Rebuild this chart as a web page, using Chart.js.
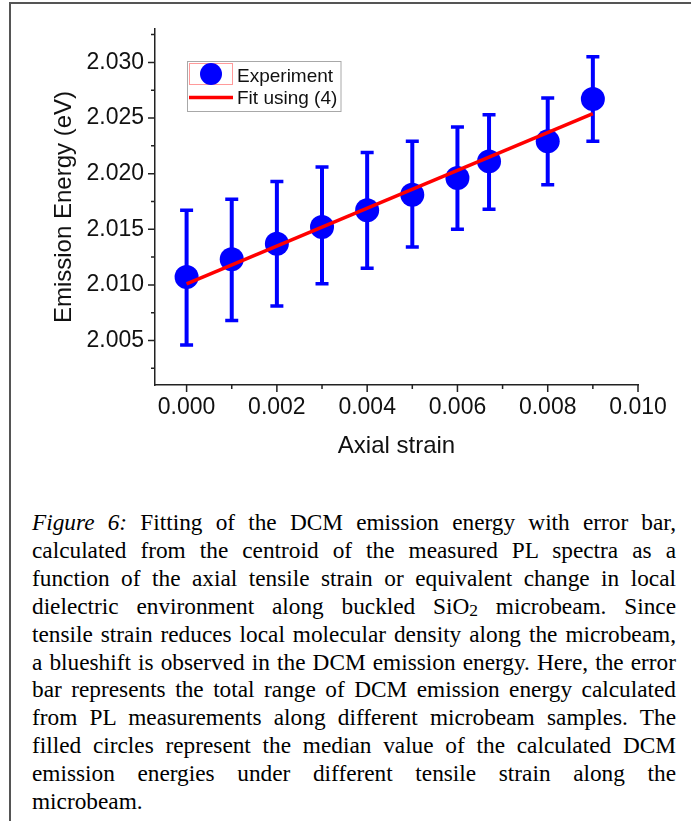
<!DOCTYPE html>
<html>
<head>
<meta charset="utf-8">
<script src="https://cdn.jsdelivr.net/npm/chart.js@4.4.1/dist/chart.umd.min.js"></script>
<style>
  html, body { margin: 0; padding: 0; background: #fff; }
  body { width: 691px; height: 821px; position: relative; overflow: hidden; }
  #frame {
    position: absolute; left: 9px; top: 2px; width: 720px; height: 860px;
    border: 2px solid #555; box-sizing: border-box;
  }
  #chartBox { position: absolute; left: 0; top: 0; width: 691px; height: 480px; }
  #caption {
    position: absolute; left: 32px; top: 509px; width: 644px;
    font-family: "Liberation Serif", "Times New Roman", serif;
    font-size: 23.3px; line-height: 27.9px; color: #000;
  }
  #caption .ln { text-align: justify; text-align-last: justify; white-space: nowrap; }
  #caption .ln.last { text-align-last: left; }
  #caption sub { font-size: 0.75em; vertical-align: -0.12em; line-height: 0; }
</style>
</head>
<body>
<div id="frame"></div>
<div id="chartBox"><canvas id="chartCanvas"></canvas></div>
<div id="caption">
  <div class="ln"><i>Figure 6:</i> Fitting of the DCM emission energy with error bar,</div>
  <div class="ln">calculated from the centroid of the measured PL spectra as a</div>
  <div class="ln">function of the axial tensile strain or equivalent change in local</div>
  <div class="ln">dielectric environment along buckled SiO<sub>2</sub> microbeam. Since</div>
  <div class="ln">tensile strain reduces local molecular density along the microbeam,</div>
  <div class="ln">a blueshift is observed in the DCM emission energy. Here, the error</div>
  <div class="ln">bar represents the total range of DCM emission energy calculated</div>
  <div class="ln">from PL measurements along different microbeam samples. The</div>
  <div class="ln">filled circles represent the median value of the calculated DCM</div>
  <div class="ln">emission energies under different tensile strain along the</div>
  <div class="ln last">microbeam.</div>
</div>
<script>
// measured points: strain vs median emission energy, with full range as error bar
const strain = [0, 0.001, 0.002, 0.003, 0.004, 0.005, 0.006, 0.0067, 0.008, 0.009];
const energy = [2.0107, 2.0123, 2.0137, 2.0152, 2.0167, 2.0181, 2.0196, 2.0211, 2.0229, 2.0267];
const energyHigh = [2.0167, 2.0177, 2.0193, 2.0206, 2.0219, 2.0229, 2.0242, 2.0253, 2.0268, 2.0305];
const energyLow = [2.0046, 2.0068, 2.0081, 2.0101, 2.0115, 2.0134, 2.0150, 2.0168, 2.0190, 2.0229];

// linear fit, eq. (4)
const fitStrain = [0, 0.009];
const fitEnergy = [2.0101, 2.0254];

// axis ticks
const xMajorTicks = [0, 0.002, 0.004, 0.006, 0.008, 0.010];
const xMinorTicks = [0.001, 0.003, 0.005, 0.007, 0.009];
const yMajorTicks = [2.005, 2.010, 2.015, 2.020, 2.025, 2.030];
const yMinorTicks = [2.0025, 2.0075, 2.0125, 2.0175, 2.0225, 2.0275, 2.0325];

const AXIS_COLOR = '#222';
const BLUE = '#0000ff';
const RED = '#ff0000';

const isMajor = (list, v) => list.some(t => Math.abs(t - v) < 1e-9);

const setTicks = (major, minor) => (scale) => {
  scale.ticks = major.concat(minor).sort((a, b) => a - b).map(v => ({ value: v }));
};

// error bars go under the markers
const errorBars = {
  id: 'errorBars',
  beforeDatasetsDraw(chart) {
    const { ctx, scales: { x, y } } = chart;
    ctx.save();
    ctx.strokeStyle = BLUE;
    ctx.lineCap = 'butt';
    strain.forEach((s, i) => {
      const px = x.getPixelForValue(s);
      const top = y.getPixelForValue(energyHigh[i]);
      const bot = y.getPixelForValue(energyLow[i]);
      ctx.lineWidth = 4;
      ctx.beginPath();
      ctx.moveTo(px, top);
      ctx.lineTo(px, bot);
      ctx.stroke();
      ctx.lineWidth = 3.5;
      ctx.beginPath();
      ctx.moveTo(px - 6.5, top);
      ctx.lineTo(px + 6.5, top);
      ctx.moveTo(px - 6.5, bot);
      ctx.lineTo(px + 6.5, bot);
      ctx.stroke();
    });
    ctx.restore();
  }
};

// outward major and minor tick marks
const tickMarks = {
  id: 'tickMarks',
  afterDraw(chart) {
    const { ctx, scales: { x, y } } = chart;
    ctx.save();
    ctx.strokeStyle = AXIS_COLOR;
    ctx.lineWidth = 1.5;
    ctx.beginPath();
    x.ticks.forEach(t => {
      const px = x.getPixelForValue(t.value);
      const len = isMajor(xMajorTicks, t.value) ? 7 : 4;
      ctx.moveTo(px, x.top);
      ctx.lineTo(px, x.top + len);
    });
    y.ticks.forEach(t => {
      const py = y.getPixelForValue(t.value);
      const len = isMajor(yMajorTicks, t.value) ? 7 : 4;
      ctx.moveTo(y.right, py);
      ctx.lineTo(y.right - len, py);
    });
    ctx.stroke();
    ctx.restore();
  }
};

// boxed legend in the upper left of the plot
const boxLegend = {
  id: 'boxLegend',
  afterDraw(chart) {
    const { ctx } = chart;
    const [pts, fit] = chart.data.datasets;
    const bx = 187.5, by = 61.5, bw = 153.5, bh = 50;
    ctx.save();
    ctx.fillStyle = '#fff';
    ctx.fillRect(bx, by, bw, bh);
    ctx.strokeStyle = '#a8a8a8';
    ctx.lineWidth = 1;
    ctx.strokeRect(bx, by, bw, bh);

    ctx.strokeStyle = '#ff9a9a';
    ctx.strokeRect(189.5, 63.5, 43, 21);
    ctx.fillStyle = pts.backgroundColor;
    ctx.beginPath();
    ctx.arc(211, 74, 11, 0, Math.PI * 2);
    ctx.fill();

    ctx.strokeStyle = fit.borderColor;
    ctx.lineWidth = 3.5;
    ctx.beginPath();
    ctx.moveTo(189, 97.5);
    ctx.lineTo(233, 97.5);
    ctx.stroke();

    ctx.fillStyle = '#111';
    ctx.font = '19px "Liberation Sans", Arial, sans-serif';
    ctx.textBaseline = 'alphabetic';
    ctx.fillText(pts.label, 237, 82);
    ctx.fillText(fit.label, 237, 104);
    ctx.restore();
  }
};

document.addEventListener('DOMContentLoaded', () => {
  const ctx = document.getElementById('chartCanvas').getContext('2d');
  const tickFont = { family: '"Liberation Sans", Arial, sans-serif', size: 23 };
  const titleFont = { family: '"Liberation Sans", Arial, sans-serif', size: 24 };

  new Chart(ctx, {
    type: 'scatter',
    data: {
      datasets: [
        {
          label: 'Experiment',
          data: strain.map((s, i) => ({ x: s, y: energy[i] })),
          backgroundColor: BLUE,
          borderColor: BLUE,
          borderWidth: 0,
          pointRadius: 12,
          pointHoverRadius: 12,
          order: 2
        },
        {
          type: 'line',
          label: 'Fit using (4)',
          data: fitStrain.map((s, i) => ({ x: s, y: fitEnergy[i] })),
          borderColor: RED,
          borderWidth: 3.5,
          pointRadius: 0,
          fill: false,
          order: 1
        }
      ]
    },
    options: {
      responsive: true,
      maintainAspectRatio: false,
      animation: false,
      layout: { padding: { left: 0, top: 29, right: 53, bottom: 0 } },
      plugins: {
        legend: { display: false },
        tooltip: { enabled: false }
      },
      scales: {
        x: {
          type: 'linear',
          min: -0.0007,
          max: 0.010,
          afterBuildTicks: setTicks(xMajorTicks, xMinorTicks),
          afterFit: (scale) => { scale.height = 95; },
          border: { color: AXIS_COLOR, width: 1.5 },
          grid: { drawOnChartArea: false, drawTicks: true, tickLength: 7, tickColor: 'rgba(0,0,0,0)' },
          ticks: {
            autoSkip: false,
            maxRotation: 0,
            padding: 2,
            color: '#111',
            font: tickFont,
            callback: (v) => isMajor(xMajorTicks, v) ? v.toFixed(3) : ''
          },
          title: {
            display: true,
            text: 'Axial strain',
            color: '#111',
            font: titleFont,
            padding: { top: 0, bottom: 19 }
          }
        },
        y: {
          type: 'linear',
          min: 2.001,
          max: 2.033,
          afterBuildTicks: setTicks(yMajorTicks, yMinorTicks),
          afterFit: (scale) => { scale.width = 155; },
          border: { color: AXIS_COLOR, width: 1.5 },
          grid: { drawOnChartArea: false, drawTicks: true, tickLength: 7, tickColor: 'rgba(0,0,0,0)' },
          ticks: {
            autoSkip: false,
            padding: 4,
            color: '#111',
            font: tickFont,
            callback: (v) => isMajor(yMajorTicks, v) ? v.toFixed(3) : ''
          },
          title: {
            display: true,
            text: 'Emission Energy (eV)',
            color: '#111',
            font: titleFont,
            padding: { top: 50, bottom: 0 }
          }
        }
      }
    },
    plugins: [errorBars, tickMarks, boxLegend]
  });
});
</script>
</body>
</html>
